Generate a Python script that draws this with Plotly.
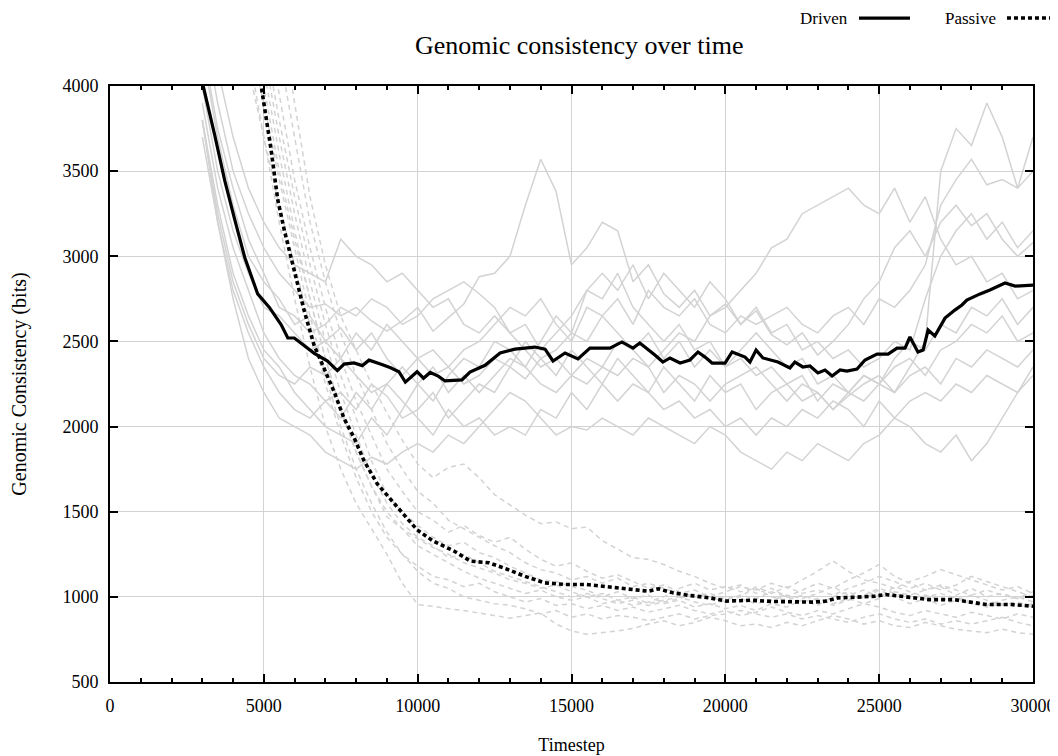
import plotly.graph_objects as go

# ---------------- data ----------------
RUN_TIMESTEPS = list(range(3000, 30001, 500))

DRIVEN_RUNS = [
    [4400,3900,3500,3250,3050,2900,2800,2700,2720,2650, 2700,2620,2560,2620,2700,2560,2640,2720,2880,2900,
     3000,3300,3570,3380,2950,3050,3200,3150,2850,2950, 2780,2700,2800,2650,2720,2600,2680,2540,2480,2550,
     2420,2500,2600,2750,2850,3050,3150,3000,3200,3300, 3180,3250,3100,3000,3080],
    [3900,3400,3050,2800,2550,2400,2300,2250,2150,2200, 2100,2250,2180,2050,2100,2200,2050,2150,2250,2200,
     2350,2280,2400,2300,2450,2350,2250,2400,2300,2200, 2350,2250,2150,2300,2200,2250,2100,2200,2250,2150,
     2200,2100,2180,2250,2300,2200,2350,2500,3500,3750, 3650,3900,3700,3400,3700],
    [4200,3700,3300,3000,2850,2750,2600,2650,2500,2580, 2450,2550,2400,2300,2400,2450,2350,2450,2500,2600,
     2700,2650,2750,2600,2500,2700,2650,2750,2600,2800, 2700,2650,2750,2600,2550,2650,2600,2650,2700,2600,
     2550,2650,2700,2600,2750,2700,2800,2950,3300,3450, 3570,3420,3450,3400,3500],
    [3800,3300,2900,2650,2450,2350,2200,2100,2000,1950, 1900,2050,1950,2100,2250,2150,2300,2400,2350,2500,
     2450,2350,2500,2650,2550,2800,2900,2800,2950,2750, 2900,2800,2700,2850,2750,2600,2700,2550,2600,2450,
     2500,2400,2450,2350,2400,2500,2450,2750,3000,3150, 3250,3100,3200,3050,3150],
    [4000,3500,3150,2900,2700,2650,2550,2450,2500,2400, 2550,2450,2600,2500,2400,2300,2350,2250,2300,2400,
     2350,2500,2400,2450,2550,2500,2650,2550,2450,2550, 2400,2500,2350,2450,2350,2450,2550,2450,2350,2400,
     2250,2300,2200,2300,2250,2400,2500,2450,2600,2550, 2700,2650,2750,2600,2700],
    [3800,3200,2750,2400,2200,2050,2000,1950,1850,1800, 1750,1820,1780,1850,1900,1850,1950,1900,2000,2100,
     2200,2150,2050,1950,2000,1980,2050,2000,1950,2050, 2000,1950,1900,2000,1950,1850,1800,1750,1850,1800,
     1900,1850,1800,1900,1950,2050,2150,2200,2150,2250, 2200,2300,2250,2200,2300],
    [3700,3200,2800,2550,2350,2200,2100,2050,2150,2050, 2200,2100,2250,2150,2050,1950,2100,2000,2050,1950,
     2000,1950,2100,2050,2200,2100,2250,2150,2250,2200, 2100,2150,2050,2100,2000,2050,1950,2050,2000,2100,
     2050,2150,2100,2000,2150,2050,2000,1900,1850,1950, 1800,1900,2050,2200,2350],
    [4800,4100,3700,3400,3200,3050,2950,2900,2850,3100, 3000,2950,2850,2900,2800,2700,2750,2600,2550,2650,
     2550,2450,2350,2400,2300,2250,2350,2300,2400,2350, 2450,2550,2500,2650,2700,2800,2900,3050,3100,3250,
     3300,3350,3400,3300,3250,3400,3200,3350,3100,2950, 3000,2850,2900,2750,2800],
    [3800,3250,2850,2600,2400,2300,2250,2350,2300,2400, 2300,2200,2250,2350,2250,2350,2200,2300,2200,2300,
     2400,2350,2250,2200,2300,2400,2350,2500,2450,2350, 2200,2300,2250,2150,2250,2300,2350,2250,2150,2250,
     2200,2100,2200,2300,2250,2350,2400,2300,2450,2500, 2600,2550,2650,2500,2550],
    [4250,3750,3400,3100,2900,2700,2650,2550,2600,2700, 2650,2750,2700,2600,2650,2750,2800,2850,2780,2700,
     2550,2600,2450,2550,2650,2800,2750,2900,2700,2600, 2500,2600,2450,2500,2350,2400,2300,2350,2250,2300,
     2150,2250,2200,2150,2250,2200,2300,2350,2250,2400, 2350,2450,2400,2350,2450],
]

PASSIVE_RUNS = [
    [7000,6500,6000,5500,5000,4500,3900,3350,2950,2650, 2450,2250,2080,1920,1780,1700,1760,1780,1700,1600,
     1540,1480,1430,1440,1400,1410,1330,1280,1230,1220, 1190,1150,1120,1080,1050,1070,1020,1050,1000,1040,
     1080,1050,1100,1140,1190,1120,1080,1040,1060,1010, 1050,1000,1020,990,1030],
    [5600,5000,4600,4200,3700,3200,2750,2350,2000,1750, 1550,1400,1250,1080,955,945,930,920,905,890,
     875,890,905,840,800,780,790,800,815,840, 860,830,850,880,860,830,840,820,850,830,
     860,890,870,840,860,830,820,850,830,810, 800,790,810,790,780],
    [6200,5500,5000,4500,4100,3600,3150,2750,2400,2100, 1850,1650,1470,1400,1340,1290,1250,1200,1170,1140,
     1100,1080,1050,1070,1030,1000,1020,980,1000,960, 980,1000,970,950,980,1010,990,1030,1000,970,
     990,950,980,1010,1050,1020,990,1010,980,1000, 970,950,980,1000,970],
    [7500,6800,6000,5300,4700,4200,3700,3200,2850,2550, 2300,2100,1900,1750,1620,1550,1450,1400,1350,1300,
     1260,1200,1160,1140,1100,1120,1080,1110,1060,1080, 1050,1020,1040,1000,1030,1060,1040,1080,1050,1100,
     1150,1210,1150,1100,1080,1050,1090,1120,1160,1130, 1100,1070,1040,1060,1020],
    [6500,5800,5200,4700,4300,3800,3350,2950,2600,2300, 2050,1800,1600,1500,1420,1350,1300,1320,1260,1230,
     1180,1140,1100,1090,1060,1040,1000,1030,990,1010, 960,980,940,960,930,950,920,960,940,980,
     950,1000,1030,990,1040,1000,960,990,950,980, 1010,980,950,970,940],
    [5800,5100,4600,4100,3700,3300,2950,2600,2250,1950, 1700,1500,1350,1250,1180,1120,1100,1060,1080,1030,
     1000,970,990,950,960,930,950,920,940,910, 930,950,920,900,920,890,910,940,910,890,
     920,900,930,960,940,910,890,920,900,880, 910,890,870,900,880],
    [6800,6100,5500,5000,4500,3950,3450,3050,2700,2400, 2150,1950,1750,1620,1500,1450,1380,1420,1360,1320,
     1350,1280,1220,1180,1200,1150,1110,1130,1090,1050, 1070,1030,1000,1020,990,1000,1060,1020,1060,1020,
     1040,1010,1050,1080,1120,1090,1050,1080,1040,1070, 1120,1090,1060,1030,1000],
    [6000,5300,4800,4300,3900,3450,3050,2650,2300,2000, 1750,1550,1380,1250,1150,1080,1050,1000,980,960,
     950,930,900,920,880,900,870,890,880,860, 880,900,870,890,900,920,900,880,900,870,
     890,870,850,880,900,870,850,870,840,860, 840,860,880,850,830],
    [6300,5600,5100,4600,4200,3700,3250,2850,2500,2200, 1950,1720,1550,1430,1350,1300,1230,1250,1200,1150,
     1120,1090,1060,1030,1000,1020,990,960,980,950, 970,990,1020,1000,970,990,960,980,1010,990,
     1020,1060,1010,1040,1000,1030,1010,1040,1070,1040, 1010,1040,1010,990,1010],
    [6100,5400,4900,4400,4000,3500,3100,2750,2400,2100, 1850,1650,1500,1400,1300,1250,1200,1150,1110,1080,
     1050,1020,1040,1000,980,1000,960,980,950,970, 1000,1050,1080,1040,1060,1030,1050,1000,980,1010,
     980,960,990,960,990,1060,1030,1000,1020,990, 960,940,960,940,960],
]

DRIVEN_MEAN_T = [2600, 3020, 3400, 3730, 4050, 4380, 4800, 5180, 5560, 5780,
                 5990, 6320, 6640, 7070, 7390, 7610, 7930, 8200, 8420, 8790,
                 9120, 9390, 9600, 9980, 10190, 10410, 10680, 10890, 11440, 11700,
                 12190, 12680, 13160, 13810, 14140, 14400, 14790, 15210, 15600, 16250,
                 16640, 17000, 17220, 17710, 17970, 18200, 18530, 18850, 19110, 19340,
                 19570, 19990, 20220, 20640, 20800, 21000, 21220, 21710, 22100, 22260,
                 22520, 22750, 23010, 23240, 23470, 23730, 23950, 24280, 24540, 24930,
                 25290, 25580, 25840, 26000, 26260, 26430, 26590, 26810, 27140, 27460,
                 27690, 27850, 28050, 28280, 28600, 28930, 29090, 29420, 30000]
DRIVEN_MEAN = [4800, 4007, 3714, 3444, 3218, 2993, 2779, 2700, 2599, 2520,
               2520, 2475, 2430, 2385, 2329, 2367, 2374, 2358, 2390, 2367,
               2345, 2322, 2261, 2322, 2284, 2318, 2295, 2268, 2274, 2320,
               2360, 2432, 2455, 2467, 2455, 2385, 2432, 2397, 2461, 2461,
               2497, 2461, 2491, 2420, 2379, 2403, 2373, 2391, 2438, 2408,
               2373, 2373, 2438, 2408, 2379, 2449, 2403, 2379, 2344, 2379,
               2350, 2356, 2315, 2332, 2297, 2332, 2326, 2338, 2391, 2426,
               2426, 2461, 2461, 2526, 2438, 2449, 2567, 2532, 2637, 2684,
               2714, 2743, 2761, 2779, 2802, 2831, 2843, 2825, 2831]

PASSIVE_MEAN_T = [4300, 4914, 5237, 5453, 5668, 5884, 6099, 6315, 6638, 6961,
                  7284, 7608, 7931, 8254, 8685, 9116, 9547, 9978, 10510, 11181,
                  11718, 12322, 12926, 13463, 14134, 14805, 15477, 16148, 16819, 17490,
                  17826, 18295, 18832, 19503, 20040, 20846, 21517, 22188, 22859, 23262,
                  23664, 24470, 24872, 25208, 25812, 26617, 27423, 27960, 28497, 29302,
                  30000]
PASSIVE_MEAN = [4800, 4000, 3624, 3331, 3151, 2993, 2836, 2678, 2475, 2340,
                2205, 2047, 1935, 1800, 1664, 1574, 1484, 1394, 1327, 1269,
                1210, 1200, 1161, 1122, 1082, 1073, 1073, 1059, 1047, 1033,
                1047, 1024, 1008, 994, 975, 980, 973, 969, 969, 975,
                994, 1000, 1004, 1014, 1000, 984, 984, 969, 955, 955,
                945]

X_TICKS = [0, 5000, 10000, 15000, 20000, 25000, 30000]
X_TICK_LABELS = ["0", "5000", "10000", "15000", "20000", "25000", "30000"]
Y_TICKS = [500, 1000, 1500, 2000, 2500, 3000, 3500, 4000]
Y_TICK_LABELS = ["500", "1000", "1500", "2000", "2500", "3000", "3500", "4000"]

TITLE = "Genomic consistency over time"
X_LABEL = "Timestep"
Y_LABEL = "Genomic Consistency (bits)"
SERIES_NAMES = ["Driven", "Passive"]

# ---------------- figure ----------------
FONT = "Liberation Serif, Times New Roman, serif"
GRAY = "#d3d3d3"

fig = go.Figure()

for run in DRIVEN_RUNS:
    fig.add_trace(go.Scatter(x=RUN_TIMESTEPS, y=run, mode="lines",
                             line=dict(color=GRAY, width=1.5),
                             showlegend=False, hoverinfo="skip"))
for run in PASSIVE_RUNS:
    fig.add_trace(go.Scatter(x=RUN_TIMESTEPS, y=run, mode="lines",
                             line=dict(color=GRAY, width=1.5, dash="5px,4px"),
                             showlegend=False, hoverinfo="skip"))

fig.add_trace(go.Scatter(x=DRIVEN_MEAN_T, y=DRIVEN_MEAN, mode="lines",
                         name=SERIES_NAMES[0],
                         line=dict(color="black", width=3.2), showlegend=False))
fig.add_trace(go.Scatter(x=PASSIVE_MEAN_T, y=PASSIVE_MEAN, mode="lines",
                         name=SERIES_NAMES[1],
                         line=dict(color="black", width=3.6, dash="4px,3px"),
                         showlegend=False))

# manual legend (text left of sample, gnuplot style)
leg_y = 1.114
LEG_FONT = dict(family=FONT, size=17, color="black")
fig.add_annotation(x=0.7996, y=leg_y, xref="paper", yref="paper", text=SERIES_NAMES[0],
                   showarrow=False, xanchor="right", yanchor="middle", xshift=2, font=LEG_FONT)
fig.add_shape(type="line", xref="paper", yref="paper", x0=0.8115, x1=0.8667,
              y0=leg_y, y1=leg_y, line=dict(color="black", width=3.2))
fig.add_annotation(x=0.96, y=leg_y, xref="paper", yref="paper", text=SERIES_NAMES[1],
                   showarrow=False, xanchor="right", yanchor="middle", xshift=2, font=LEG_FONT)
fig.add_shape(type="line", xref="paper", yref="paper", x0=0.9718, x1=1.03,
              y0=leg_y, y1=leg_y, line=dict(color="black", width=3.6, dash="4px,3px"))

axis_common = dict(
    showline=True, linecolor="black", linewidth=2, mirror="ticks",
    ticks="inside", ticklen=8, tickwidth=1.5, tickcolor="black",
    showgrid=True, gridcolor=GRAY, gridwidth=1, zeroline=False,
    tickfont=dict(family=FONT, size=18, color="black"),
)

fig.update_layout(
    width=1050, height=748,
    paper_bgcolor="white", plot_bgcolor="white",
    margin=dict(l=102, r=25, t=78, b=74),
    font=dict(family=FONT, color="black"),
    title=dict(text=TITLE, x=0.544, xanchor="center", y=0.9505, yanchor="middle",
               font=dict(family=FONT, size=26, color="black")),
    xaxis=dict(range=[0, 30000], tickvals=X_TICKS, ticktext=X_TICK_LABELS,
               minor=dict(dtick=1000, ticks="inside", ticklen=4, tickcolor="black", showgrid=False),
               title=dict(text=X_LABEL, standoff=24, font=dict(family=FONT, size=18)),
               ticklabelstandoff=6, automargin=False, **axis_common),
    yaxis=dict(range=[500, 4000], tickvals=Y_TICKS, ticktext=Y_TICK_LABELS,
               title=dict(text=Y_LABEL, standoff=37, font=dict(family=FONT, size=20)),
               ticklabelstandoff=6, automargin=False, **axis_common),
    showlegend=False,
)

fig.write_html("out.html")
